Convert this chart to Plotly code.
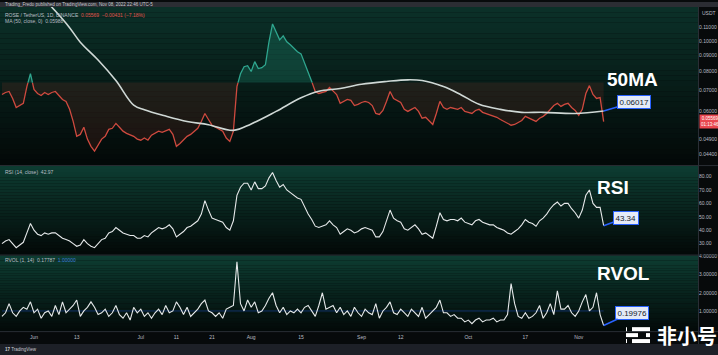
import math
import numpy as np
import pandas as pd
import plotly.graph_objects as go

# ---------------- data ----------------
start_date = "2022-05-23"
price = [
    0.0678, 0.0688, 0.0693, 0.0659, 0.0617, 0.0626, 0.0636, 0.0718, 0.0788, 0.0703,
    0.0683, 0.0673, 0.0688, 0.0678, 0.0688, 0.0693, 0.0673, 0.0654, 0.0645, 0.0609,
    0.0558, 0.0501, 0.0508, 0.0535, 0.0491, 0.0466, 0.0450, 0.0469, 0.0491, 0.0501,
    0.0527, 0.0531, 0.0550, 0.0535, 0.0520, 0.0512, 0.0505, 0.0501, 0.0491, 0.0487,
    0.0495, 0.0487, 0.0505, 0.0512, 0.0520, 0.0516, 0.0520, 0.0527, 0.0508, 0.0466,
    0.0476, 0.0487, 0.0501, 0.0508, 0.0520, 0.0531, 0.0558, 0.0591, 0.0566, 0.0543,
    0.0535, 0.0527, 0.0520, 0.0495, 0.0483, 0.0520, 0.0718, 0.0788, 0.0829, 0.0835,
    0.0801, 0.0860, 0.0818, 0.0823, 0.0841, 0.0993, 0.1130, 0.1067, 0.1007, 0.1036,
    0.0993, 0.0972, 0.0950, 0.0924, 0.0910, 0.0847, 0.0788, 0.0745, 0.0693, 0.0683,
    0.0688, 0.0693, 0.0714, 0.0693, 0.0678, 0.0636, 0.0645, 0.0654, 0.0650, 0.0626,
    0.0631, 0.0640, 0.0645, 0.0640, 0.0626, 0.0591, 0.0587, 0.0604, 0.0645, 0.0693,
    0.0659, 0.0650, 0.0640, 0.0609, 0.0600, 0.0609, 0.0617, 0.0600, 0.0571, 0.0575,
    0.0562, 0.0546, 0.0591, 0.0645, 0.0617, 0.0609, 0.0617, 0.0613, 0.0609, 0.0617,
    0.0600, 0.0596, 0.0591, 0.0604, 0.0609, 0.0596, 0.0591, 0.0587, 0.0583, 0.0575,
    0.0566, 0.0558, 0.0550, 0.0543, 0.0546, 0.0554, 0.0562, 0.0579, 0.0571, 0.0566,
    0.0558, 0.0571, 0.0579, 0.0591, 0.0609, 0.0626, 0.0636, 0.0622, 0.0631, 0.0636,
    0.0617, 0.0604, 0.0583, 0.0609, 0.0683, 0.0723, 0.0678, 0.0659, 0.0663, 0.0557,
]
ma_dates = ["2022-05-23", "2022-05-28", "2022-06-02", "2022-06-07", "2022-06-11",
            "2022-06-14", "2022-06-19", "2022-06-24", "2022-06-29", "2022-07-02",
            "2022-07-08", "2022-07-14", "2022-07-20", "2022-07-27", "2022-08-01",
            "2022-08-08", "2022-08-15", "2022-08-20", "2022-08-26", "2022-09-01",
            "2022-09-08", "2022-09-14", "2022-09-18", "2022-09-24", "2022-09-29",
            "2022-10-04", "2022-10-10", "2022-10-16", "2022-10-22", "2022-10-31",
            "2022-11-08"]
ma50 = [0.185, 0.160, 0.142, 0.124, 0.110, 0.0990, 0.0870, 0.0750, 0.0628, 0.0607,
        0.0580, 0.0558, 0.0545, 0.0523, 0.0548, 0.0600, 0.0662, 0.0694, 0.0708, 0.0730,
        0.0745, 0.0754, 0.0750, 0.0718, 0.0676, 0.0632, 0.0609, 0.0596, 0.0596, 0.0591,
        0.06017]
rsi = [
    30, 32, 33, 30, 27, 29, 31, 38, 45, 40,
    37, 36, 38, 37, 38, 38, 36, 34, 33, 32,
    30, 28, 29, 33, 30, 28, 27, 30, 33, 34,
    38, 39, 42, 40, 38, 37, 36, 36, 34, 34,
    36, 35, 38, 40, 42, 41, 42, 44, 41, 35,
    37, 39, 42, 43, 45, 47, 52, 62, 55, 49,
    48, 47, 46, 42, 40, 47, 66, 72, 75, 75,
    70, 76, 71, 71, 73, 79, 83, 77, 72, 74,
    70, 68, 66, 64, 63, 57, 52, 48, 43, 42,
    43, 44, 47, 44, 42, 37, 39, 41, 40, 38,
    39, 41, 42, 41, 40, 35, 35, 39, 47, 55,
    49, 47, 46, 41, 40, 42, 44, 41, 37, 38,
    36, 34, 43, 53, 48, 47, 48, 48, 47, 49,
    46, 45, 44, 47, 48, 46, 45, 44, 44, 42,
    41, 40, 38, 37, 39, 41, 44, 48, 46, 45,
    43, 47, 49, 52, 56, 59, 61, 58, 60, 60,
    56, 53, 49, 55, 66, 70, 60, 57, 57, 43.34,
]
rvol = [
    0.7, 0.9, 1.4, 0.9, 0.7, 1.0, 1.2, 1.1, 1.5, 0.9,
    1.1, 0.6, 0.9, 1.0, 0.7, 1.3, 0.8, 1.5, 0.9, 1.1,
    1.3, 1.6, 0.7, 1.0, 1.2, 1.5, 1.2, 0.8, 0.9, 1.1,
    0.7, 0.9, 1.3, 0.8, 0.6, 0.9, 0.5, 1.2, 0.9, 1.1,
    0.7, 0.9, 0.6, 0.9, 1.1, 0.8, 1.3, 0.9, 1.0, 1.5,
    1.2, 0.8, 1.2, 0.7, 0.9, 1.1, 1.4, 1.6, 1.0, 0.9,
    0.7, 0.9, 0.6, 1.1, 1.2, 1.3, 3.7, 1.4, 1.0, 1.6,
    1.2, 1.5, 0.9, 1.0, 1.3, 1.7, 2.0, 1.3, 0.9, 1.2,
    0.8, 1.0, 0.9, 1.1, 0.9, 1.2, 1.3, 1.0, 0.7, 1.3,
    2.0, 1.1, 1.2, 1.3, 0.9, 1.2, 0.8, 1.0, 0.7, 1.2,
    0.9, 0.7, 1.1, 0.9, 0.8, 1.4, 0.6, 1.0, 1.2, 1.5,
    0.9, 0.8, 1.1, 0.9, 0.7, 1.1, 0.9, 0.7, 1.2, 0.6,
    0.8, 1.0, 1.2, 1.6, 0.9, 0.9, 0.7, 0.8, 0.6, 0.6,
    0.4, 0.5, 0.3, 0.5, 0.6, 0.4, 0.5, 0.5, 0.6, 0.4,
    0.5, 0.5, 0.8, 2.5, 1.4, 0.7, 0.6, 0.9, 0.6, 0.7,
    0.9, 1.3, 0.6, 0.9, 1.4, 0.8, 2.1, 1.1, 1.1, 1.3,
    0.9, 0.7, 1.0, 1.5, 1.9, 1.0, 1.2, 2.0, 0.8, 0.2,
]
baseline_level = 0.0739
last_price = 0.05569
price_ticks = [0.11, 0.10, 0.09, 0.08, 0.07, 0.06, 0.049, 0.044]
rsi_ticks = [30, 40, 50, 60, 70, 80]
rvol_ticks = [1, 2, 3, 4]
x_tick_dates = ["2022-06-01", "2022-06-13", "2022-07-01", "2022-07-11", "2022-07-21",
                "2022-08-01", "2022-08-15", "2022-09-01", "2022-09-12", "2022-10-01",
                "2022-10-17", "2022-11-01"]
x_tick_text = ["Jun", "13", "Jul", "11", "21", "Aug", "15", "Sep", "12", "Oct", "17", "Nov"]

dates = pd.date_range(start_date, periods=len(price), freq="D")

# ---------------- geometry helpers ----------------
W, H = 718, 355
def py(p):
    return 1 - p / H
def px(p):
    return p / W

# split the baseline-style price line into above/below parts
t = dates.values.astype("datetime64[ms]").astype(np.int64)
lp = np.log10(price)
lb = math.log10(baseline_level)
xs, up_line, dn_line, up_fill, dn_fill = [], [], [], [], []
for i in range(len(price)):
    if i > 0 and (lp[i - 1] - lb) * (lp[i] - lb) < 0:
        f = (lb - lp[i - 1]) / (lp[i] - lp[i - 1])
        xs.append(t[i - 1] + f * (t[i] - t[i - 1]))
        up_line.append(baseline_level); dn_line.append(baseline_level)
        up_fill.append(baseline_level); dn_fill.append(baseline_level)
    xs.append(t[i])
    p = price[i]
    if p >= baseline_level:
        up_line.append(p); dn_line.append(None)
        up_fill.append(p); dn_fill.append(baseline_level)
    else:
        up_line.append(None); dn_line.append(p)
        up_fill.append(baseline_level); dn_fill.append(p)
xs = pd.to_datetime(np.array(xs, dtype=np.int64), unit="ms")
base_arr = [baseline_level] * len(xs)

RED = "#cf4a3f"
TEAL = "#2fa68f"

fig = go.Figure()
fig.add_trace(go.Scatter(x=xs, y=base_arr, mode="lines", line=dict(width=0), yaxis="y", hoverinfo="skip"))
fig.add_trace(go.Scatter(x=xs, y=up_fill, mode="lines", line=dict(width=0), fill="tonexty",
                         fillcolor="rgba(38,166,140,0.24)", yaxis="y", hoverinfo="skip"))
fig.add_trace(go.Scatter(x=xs, y=base_arr, mode="lines", line=dict(width=0), yaxis="y", hoverinfo="skip"))
fig.add_trace(go.Scatter(x=xs, y=dn_fill, mode="lines", line=dict(width=0), fill="tonexty",
                         fillcolor="rgba(190,60,50,0.13)", yaxis="y", hoverinfo="skip"))
fig.add_trace(go.Scatter(x=xs, y=dn_line, mode="lines", line=dict(color=RED, width=1.3), yaxis="y"))
fig.add_trace(go.Scatter(x=xs, y=up_line, mode="lines", line=dict(color=TEAL, width=1.3), yaxis="y"))
fig.add_trace(go.Scatter(x=pd.to_datetime(ma_dates), y=ma50, mode="lines", line_shape="spline",
                         line=dict(color="#cfd8d5", width=1.6), yaxis="y"))
fig.add_trace(go.Scatter(x=dates, y=rsi, mode="lines", line=dict(color="#e6e9ea", width=1.1), yaxis="y2"))
fig.add_trace(go.Scatter(x=[dates[0], dates[-1]], y=[1, 1], mode="lines",
                         line=dict(color="rgba(41,98,255,0.35)", width=1), yaxis="y3"))
fig.add_trace(go.Scatter(x=dates, y=rvol, mode="lines", line=dict(color="#e6e9ea", width=1.1), yaxis="y3"))

# ---------------- background gradients ----------------
shapes = []
def gradient(y_top, y_bot, c_top, c_bot, n=30):
    for k in range(n):
        f = k / (n - 1)
        c = tuple(int(round(c_top[j] + (c_bot[j] - c_top[j]) * f)) for j in range(3))
        y0 = y_top + (y_bot - y_top) * k / n
        y1 = y_top + (y_bot - y_top) * (k + 1) / n
        shapes.append(dict(type="rect", xref="paper", yref="paper", x0=0, x1=px(698),
                           y0=py(y1), y1=py(y0), fillcolor="rgb(%d,%d,%d)" % c,
                           line=dict(width=0), layer="below"))
gradient(5, 164, (11, 48, 40), (3, 9, 8))
gradient(165, 254, (13, 60, 49), (3, 9, 8))
gradient(255, 331, (13, 60, 49), (3, 10, 9))
# header and footer strips
shapes.append(dict(type="rect", xref="paper", yref="paper", x0=0, x1=1, y0=py(5), y1=1,
                   fillcolor="#2b2d33", line=dict(width=0), layer="below"))
shapes.append(dict(type="rect", xref="paper", yref="paper", x0=0, x1=1, y0=0, y1=py(344),
                   fillcolor="#1d2027", line=dict(width=0), layer="below"))
# separators
for yy in (164.5, 254.5, 331.5):
    shapes.append(dict(type="line", xref="paper", yref="paper", x0=0, x1=1, y0=py(yy), y1=py(yy),
                       line=dict(color="#2a2e35", width=1)))
shapes.append(dict(type="line", xref="paper", yref="paper", x0=px(698.5), x1=px(698.5),
                   y0=py(344), y1=py(5), line=dict(color="#2a2e35", width=1)))
# watermark icon
for (a, b, yy) in [(626, 627, 329), (632, 650, 329), (626, 638, 335), (646, 650, 335),
                   (626, 627, 341), (632, 650, 341)]:
    shapes.append(dict(type="line", xref="paper", yref="paper", x0=px(a), x1=px(b), y0=py(yy), y1=py(yy),
                       line=dict(color="white", width=4)))

# ---------------- annotations ----------------
SMALL = dict(family="Liberation Sans", size=5, color="#b9bdc4")
ann = []
ann.append(dict(x=px(3), y=py(2.5), xref="paper", yref="paper", xanchor="left", yanchor="middle",
                text="Trading_Fredo published on TradingView.com, Nov 08, 2022 22:46 UTC-5",
                showarrow=False, font=dict(family="Liberation Sans", size=4.5, color="#c8cad0")))
ann.append(dict(x=px(3), y=py(13), xref="paper", yref="paper", xanchor="left", yanchor="middle",
                text="ROSE / TetherUS, 1D, BINANCE  <span style='color:#e0504a'>0.05569  −0.00431 (−7.18%)</span>",
                showarrow=False, font=SMALL))
ann.append(dict(x=px(3), y=py(19.5), xref="paper", yref="paper", xanchor="left", yanchor="middle",
                text="MA (50, close, 0)  0.05988", showarrow=False, font=SMALL))
ann.append(dict(x=px(3), y=py(171), xref="paper", yref="paper", xanchor="left", yanchor="middle",
                text="RSI (14, close)  42.97", showarrow=False, font=SMALL))
ann.append(dict(x=px(3), y=py(259), xref="paper", yref="paper", xanchor="left", yanchor="middle",
                text="RVOL (1, 14)  0.17787  <span style='color:#3d7bd9'>1.00000</span>",
                showarrow=False, font=SMALL))
ann.append(dict(x=px(700), y=py(11), xref="paper", yref="paper", xanchor="left", yanchor="middle",
                text="USDT", showarrow=False, font=SMALL))
ann.append(dict(x=px(699), y=math.log10(last_price), xref="paper", yref="y", xanchor="left", yanchor="middle",
                text="0.05569<br>01:13:46", showarrow=False, bgcolor="#e9474f", borderpad=1,
                font=dict(family="Liberation Sans", size=4.5, color="white")))
BIG = dict(family="Liberation Sans", size=19, color="white", weight="bold")
ann.append(dict(x=px(632), y=py(78), xref="paper", yref="paper", xanchor="center", yanchor="middle",
                text="50MA", showarrow=False, font=BIG))
ann.append(dict(x=px(613), y=py(187), xref="paper", yref="paper", xanchor="center", yanchor="middle",
                text="RSI", showarrow=False, font=BIG))
ann.append(dict(x=px(623), y=py(273), xref="paper", yref="paper", xanchor="center", yanchor="middle",
                text="RVOL", showarrow=False, font=BIG))
BOX = dict(showarrow=True, arrowhead=0, arrowwidth=1.5, arrowcolor="#2962ff", standoff=0,
           bgcolor="#e4eaf7", bordercolor="#2962ff", borderwidth=1, borderpad=1.5,
           font=dict(family="Liberation Sans", size=8, color="#161b2a"))
ann.append(dict(x=pd.Timestamp(ma_dates[-1]), y=math.log10(ma50[-1]), xref="x", yref="y",
                text="0.06017", ax=30, ay=-9, **BOX))
ann.append(dict(x=dates[-1], y=rsi[-1], xref="x", yref="y2", text="43.34", ax=22, ay=-8, **BOX))
ann.append(dict(x=dates[-1], y=rvol[-1], xref="x", yref="y3", text="0.19976", ax=28, ay=-13, **BOX))
ann.append(dict(x=px(655), y=py(335), xref="paper", yref="paper", xanchor="left", yanchor="middle",
                text="非小号", showarrow=False,
                font=dict(family="Noto Sans CJK SC", size=20, color="white", weight="bold")))
ann.append(dict(x=px(3), y=py(349.5), xref="paper", yref="paper", xanchor="left", yanchor="middle",
                text="<b>17</b> TradingView", showarrow=False,
                font=dict(family="Liberation Sans", size=4.5, color="#c8cad0")))

AX = dict(showgrid=False, zeroline=False, showline=False, ticks="",
          tickfont=dict(family="Liberation Sans", size=5, color="#b9bdc4"))
fig.update_layout(
    width=W, height=H, margin=dict(l=0, r=0, t=0, b=0),
    paper_bgcolor="#070a0b", plot_bgcolor="rgba(0,0,0,0)", showlegend=False,
    shapes=shapes, annotations=ann,
    xaxis=dict(domain=[0, px(698)], anchor="y3", type="date",
               range=["2022-05-22 10:48", "2022-12-04 12:00"],
               tickvals=x_tick_dates, ticktext=x_tick_text, ticklabelstandoff=2, **AX),
    yaxis=dict(domain=[py(164), py(5)], anchor="x", side="right", type="log",
               range=[-1.3905, -0.8937], tickvals=price_ticks, tickformat=".5f", **AX),
    yaxis2=dict(domain=[py(254), py(165)], anchor="x", side="right",
                range=[21.85, 87.78], tickvals=rsi_ticks, tickformat=".2f", **AX),
    yaxis3=dict(domain=[py(331), py(255)], anchor="x", side="right",
                range=[-0.109, 4.044], tickvals=rvol_ticks, tickformat=".5f", **AX),
)
fig.write_html("out.html")
